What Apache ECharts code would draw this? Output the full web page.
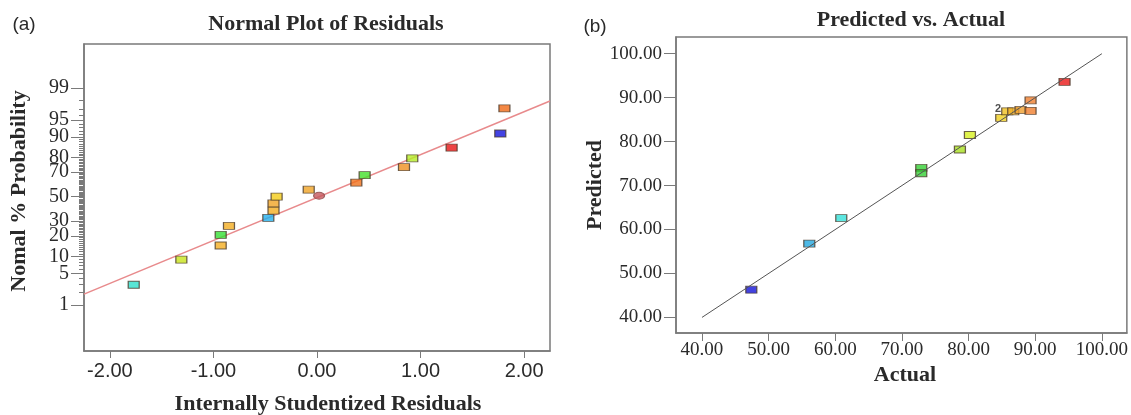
<!DOCTYPE html>
<html>
<head>
<meta charset="utf-8">
<script src="https://cdn.jsdelivr.net/npm/echarts@6/dist/echarts.min.js"></script>
<style>
  html, body { margin: 0; padding: 0; background: #fff; }
  #chart { width: 1131px; height: 415px; }
</style>
</head>
<body>
<div id="chart"></div>
<script>
  // (a) normal plot of residuals
  const residX = [-1.77, -1.31, -0.93, -0.93, -0.85, -0.47, -0.42, -0.42, -0.39, -0.08, 0.38, 0.46, 0.84, 0.92, 1.30, 1.77, 1.81]
  const residProb = [2.94, 8.82, 14.71, 20.59, 26.47, 32.35, 38.24, 44.12, 50.0, 55.88, 61.76, 67.65, 73.53, 79.41, 85.29, 91.18, 97.06]
  const residColors = ['#2ee0cc', '#c8e41c', '#f4ae22', '#34e034', '#f4ae22', '#22b0ee', '#f4ae22', '#f0a426', '#f4cc18', '#f0a426',
    '#f0701a', '#44e02a', '#f09020', '#b4ee26', '#e81414', '#1414dc', '#f06a16']
  const centerPoint = [0.02, 50.7]
  const fitLineX = [-2.25, 2.25]
  const fitLineProb = [1.83, 97.97]
  const probLabels = [1, 5, 10, 20, 30, 50, 70, 80, 90, 95, 99]
  const probMinorTicks = []
  for (let i = 1; i < 100; i++) probMinorTicks.push(i)
  const residTicks = [-2, -1, 0, 1, 2]

  // (b) predicted vs actual
  const actualVals = [47.4, 56.1, 60.9, 72.9, 72.9, 78.7, 80.2, 84.9, 85.8, 86.7, 87.8, 89.3, 89.3, 94.4]
  const predictedVals = [46.3, 56.8, 62.6, 74.0, 72.8, 78.2, 81.5, 85.4, 86.9, 86.9, 87.2, 89.4, 87.0, 93.6]
  const predColors = ['#1414d8', '#22a8e0', '#34e0d8', '#34d034', '#34d034', '#a8e020', '#d8f020', '#f0d020', '#f0c020',
    '#f0b028', '#f0a030', '#f08030', '#f08030', '#e81818']
  const duplicateIdx = 8 // point marked "2"
  const refLine = [40, 100]
  const pvTicks = [40, 50, 60, 70, 80, 90, 100]

  // inverse normal cdf (Acklam), used for the probability axis
  function probit(p) {
    const a = [-3.969683028665376e+01, 2.209460984245205e+02, -2.759285104469687e+02, 1.383577518672690e+02, -3.066479806614716e+01, 2.506628277459239e+00]
    const b = [-5.447609879822406e+01, 1.615858368580409e+02, -1.556989798598866e+02, 6.680131188771972e+01, -1.328068155288572e+01]
    const c = [-7.784894002430293e-03, -3.223964580411365e-01, -2.400758277161838e+00, -2.549732539343734e+00, 4.374664141464968e+00, 2.938163982698783e+00]
    const d = [7.784695709041462e-03, 3.224671290700398e-01, 2.445134137142996e+00, 3.754408661907416e+00]
    const pl = 0.02425
    let q, r
    if (p < pl) {
      q = Math.sqrt(-2 * Math.log(p))
      return (((((c[0]*q+c[1])*q+c[2])*q+c[3])*q+c[4])*q+c[5]) / ((((d[0]*q+d[1])*q+d[2])*q+d[3])*q+1)
    }
    if (p > 1 - pl) {
      q = Math.sqrt(-2 * Math.log(1 - p))
      return -(((((c[0]*q+c[1])*q+c[2])*q+c[3])*q+c[4])*q+c[5]) / ((((d[0]*q+d[1])*q+d[2])*q+d[3])*q+1)
    }
    q = p - 0.5
    r = q * q
    return (((((a[0]*r+a[1])*r+a[2])*r+a[3])*r+a[4])*r+a[5])*q / (((((b[0]*r+b[1])*r+b[2])*r+b[3])*r+b[4])*r+1)
  }
  const z = pct => probit(pct / 100)
  const labelZ = probLabels.map(z)
  const minorZ = probMinorTicks.map(z)

  const serif = 'Liberation Serif'
  const sans = 'Liberation Sans'
  const frame = '#7a7a7a'
  const ink = '#2a2a2a'

  const chart = echarts.init(document.getElementById('chart'))
  chart.setOption({
    animation: false,
    backgroundColor: '#fff',
    grid: [
      {left: 84, top: 44, width: 466, height: 307, show: true, borderColor: frame, borderWidth: 1.5},
      {left: 676, top: 37, width: 451, height: 296, show: true, borderColor: frame, borderWidth: 1.5}
    ],
    xAxis: [
      {
        gridIndex: 0, type: 'value', min: -2.25, max: 2.25,
        splitLine: {show: false},
        axisLine: {onZero: false, lineStyle: {color: frame, width: 1.5}},
        axisTick: {customValues: residTicks, length: 7, lineStyle: {color: frame}},
        axisLabel: {customValues: residTicks, formatter: v => v.toFixed(2), fontFamily: sans, fontSize: 20, color: ink, margin: 10}
      },
      {
        gridIndex: 1, type: 'value', min: 36.1, max: 103.75,
        splitLine: {show: false},
        axisLine: {onZero: false, lineStyle: {color: frame, width: 1.5}},
        axisTick: {customValues: pvTicks, length: 8, lineStyle: {color: frame}},
        axisLabel: {customValues: pvTicks, formatter: v => v.toFixed(2), fontFamily: serif, fontSize: 19, color: ink, margin: 8}
      }
    ],
    yAxis: [
      {
        gridIndex: 0, type: 'value', min: -3.31, max: 3.27, position: 'left',
        splitLine: {show: false},
        axisLine: {onZero: false, lineStyle: {color: frame, width: 1.5}},
        axisTick: {customValues: minorZ, length: 5, lineStyle: {color: frame}},
        axisLabel: {show: false}
      },
      {
        gridIndex: 0, type: 'value', min: -3.31, max: 3.27, position: 'left', offset: 0,
        splitLine: {show: false},
        axisLine: {show: false, onZero: false},
        axisTick: {customValues: labelZ, length: 13, lineStyle: {color: frame}},
        axisLabel: {
          customValues: labelZ, fontFamily: serif, fontSize: 20, color: ink, margin: 15,
          formatter: v => {
            let i = labelZ.findIndex(t => Math.abs(t - v) < 1e-6)
            return i < 0 ? '' : String(probLabels[i])
          }
        }
      },
      {
        gridIndex: 1, type: 'value', min: 36.45, max: 103.8,
        splitLine: {show: false},
        axisLine: {onZero: false, lineStyle: {color: frame, width: 1.5}},
        axisTick: {customValues: pvTicks, length: 12, lineStyle: {color: frame}},
        axisLabel: {customValues: pvTicks, formatter: v => v.toFixed(2), fontFamily: serif, fontSize: 19, color: ink, margin: 14}
      }
    ],
    graphic: [
      {type: 'text', x: 24, y: 25, style: {text: '(a)', font: '19px "Liberation Sans"', fill: ink, align: 'center', verticalAlign: 'middle'}},
      {type: 'text', x: 326, y: 24, style: {text: 'Normal Plot of Residuals', font: 'bold 22px "Liberation Serif"', fill: ink, align: 'center', verticalAlign: 'middle'}},
      {type: 'text', x: 19, y: 191, rotation: Math.PI / 2, style: {text: 'Nomal % Probability', font: 'bold 22px "Liberation Serif"', fill: ink, align: 'center', verticalAlign: 'middle'}},
      {type: 'text', x: 328, y: 404, style: {text: 'Internally Studentized Residuals', font: 'bold 22px "Liberation Serif"', fill: ink, align: 'center', verticalAlign: 'middle'}},
      {type: 'text', x: 595, y: 27, style: {text: '(b)', font: '19px "Liberation Sans"', fill: ink, align: 'center', verticalAlign: 'middle'}},
      {type: 'text', x: 911, y: 20, style: {text: 'Predicted vs. Actual', font: 'bold 22px "Liberation Serif"', fill: ink, align: 'center', verticalAlign: 'middle'}},
      {type: 'text', x: 595, y: 185, rotation: Math.PI / 2, style: {text: 'Predicted', font: 'bold 22px "Liberation Serif"', fill: ink, align: 'center', verticalAlign: 'middle'}},
      {type: 'text', x: 905, y: 375, style: {text: 'Actual', font: 'bold 22px "Liberation Serif"', fill: ink, align: 'center', verticalAlign: 'middle'}}
    ],
    series: [
      {
        type: 'line', xAxisIndex: 0, yAxisIndex: 0, symbol: 'none', z: 2,
        lineStyle: {color: '#e88a8c', width: 1.5},
        data: fitLineX.map((x, i) => [x, z(fitLineProb[i])])
      },
      {
        type: 'scatter', xAxisIndex: 0, yAxisIndex: 0, symbol: 'rect', symbolSize: [11, 7], z: 3,
        itemStyle: {borderColor: '#4a3a2a', borderWidth: 1},
        data: residX.map((x, i) => ({value: [x, z(residProb[i])], itemStyle: {color: residColors[i]}}))
      },
      {
        type: 'scatter', xAxisIndex: 0, yAxisIndex: 0, symbol: 'circle', symbolSize: [11, 7], z: 3,
        itemStyle: {color: '#c4585e', borderColor: '#8a4a4a', borderWidth: 1},
        data: [[centerPoint[0], z(centerPoint[1])]]
      },
      {
        type: 'scatter', xAxisIndex: 1, yAxisIndex: 2, symbol: 'rect', symbolSize: [11, 7], z: 2,
        itemStyle: {borderColor: '#4a3a2a', borderWidth: 1},
        data: actualVals.map((x, i) => ({
          value: [x, predictedVals[i]],
          itemStyle: {color: predColors[i]},
          label: i === duplicateIdx ? {show: true, formatter: '2', position: 'left', distance: 1, offset: [1, -2], fontFamily: sans, fontWeight: 'bold', fontSize: 11, color: '#222'} : {show: false}
        }))
      },
      {
        type: 'line', xAxisIndex: 1, yAxisIndex: 2, symbol: 'none', z: 3,
        lineStyle: {color: '#555', width: 1},
        data: [[refLine[0], refLine[0]], [refLine[1], refLine[1]]]
      }
    ]
  })
</script>
</body>
</html>
